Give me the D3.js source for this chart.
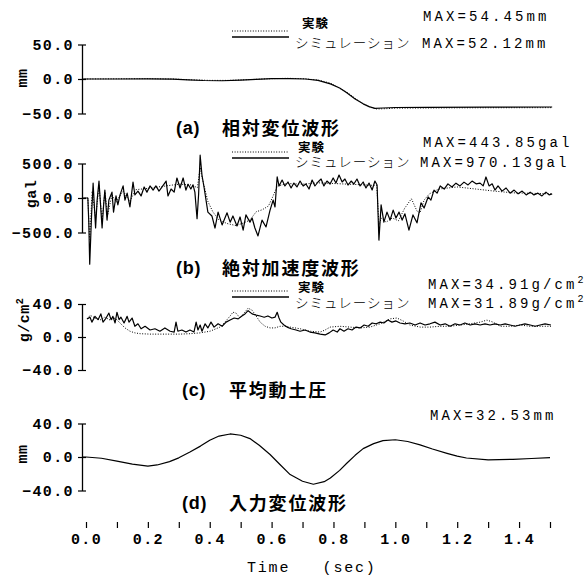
<!DOCTYPE html>
<html><head><meta charset="utf-8">
<script src="https://cdn.jsdelivr.net/npm/d3@7"></script>
<style>
body{margin:0;background:#fff;}
svg{display:block;}
</style></head><body>
<svg id="chart" width="585" height="579"></svg>
<script>
// ---- Time axis ----
const timeTicks = [0,0.1,0.2,0.3,0.4,0.5,0.6,0.7,0.8,0.9,1.0,1.1,1.2,1.3,1.4,1.5];
const timeTickLabels = ["0.0","","0.2","","0.4","","0.6","","0.8","","1.0","","1.2","","1.4",""];

// ---- (a) relative displacement [sec, mm] ----
const dispExp = [[-0.013,0],[0.1,0.3],[0.2,0.5],[0.28,0],[0.33,-1],[0.4,-2],[0.46,-2],[0.52,-1],[0.58,0.2],[0.65,1],[0.7,0.5],[0.75,-1.5],[0.79,-6],[0.843,-19],[0.87,-28],[0.896,-36],[0.92,-41],[0.94,-43.5],[0.97,-43],[1.0,-42.3],[1.2,-41.8],[1.507,-41.5]];
const dispSim = [[-0.013,0],[0.1,0],[0.2,0.2],[0.28,-0.2],[0.33,-1.2],[0.38,-2.2],[0.44,-2.5],[0.5,-1.5],[0.55,-0.4],[0.6,0.4],[0.66,0.6],[0.71,0],[0.75,-2],[0.79,-7],[0.82,-13],[0.843,-20],[0.87,-29],[0.896,-36],[0.915,-40],[0.934,-42.5],[0.96,-42],[1.0,-41.3],[1.1,-41],[1.3,-40.8],[1.507,-40.6]];
const dispTicks = [50,0,-50];
const dispTickLabels = ["50.0","0.0","\u221250.0"];

// ---- (b) absolute acceleration [sec, gal] ----
const accExp = [[-0.013,0],[0.006,0],[0.012,-600],[0.02,100],[0.031,-300],[0.042,180],[0.052,-320],[0.061,90],[0.07,-250],[0.084,50],[0.097,-60],[0.12,100],[0.142,-50],[0.16,120],[0.2,140],[0.25,170],[0.3,200],[0.34,190],[0.36,150],[0.369,440],[0.375,300],[0.385,120],[0.394,-50],[0.41,-200],[0.43,-320],[0.456,-370],[0.485,-400],[0.51,-360],[0.53,-320],[0.55,-200],[0.57,-170],[0.59,-115],[0.605,30],[0.618,170],[0.65,210],[0.7,200],[0.75,220],[0.8,210],[0.85,200],[0.9,190],[0.94,180],[0.947,-390],[0.955,-290],[0.97,-350],[0.99,-290],[1.01,-330],[1.03,-150],[1.052,-10],[1.07,-190],[1.08,-215],[1.093,-30],[1.11,60],[1.14,130],[1.2,160],[1.26,130],[1.32,100],[1.38,75],[1.507,60]];
const accSim = [[-0.013,0],[0.006,0],[0.009,-350],[0.012,-960],[0.018,-250],[0.023,215],[0.031,-435],[0.036,-30],[0.042,245],[0.047,-100],[0.052,-435],[0.057,-100],[0.061,115],[0.068,-320],[0.074,-30],[0.084,85],[0.089,-205],[0.097,30],[0.103,-100],[0.110,45],[0.120,175],[0.126,-30],[0.133,70],[0.142,-130],[0.152,230],[0.158,45],[0.168,100],[0.178,30],[0.188,160],[0.197,85],[0.207,175],[0.217,115],[0.226,175],[0.236,100],[0.246,160],[0.259,245],[0.265,30],[0.275,130],[0.285,85],[0.294,290],[0.304,145],[0.314,290],[0.323,115],[0.330,200],[0.339,130],[0.346,190],[0.352,85],[0.359,-300],[0.364,50],[0.369,620],[0.375,330],[0.382,145],[0.394,-205],[0.407,-260],[0.417,-435],[0.427,-205],[0.440,-390],[0.456,-215],[0.466,-350],[0.475,-260],[0.488,-405],[0.498,-275],[0.508,-465],[0.517,-245],[0.530,-350],[0.537,-290],[0.546,-435],[0.556,-550],[0.569,-320],[0.582,-420],[0.595,-175],[0.605,-30],[0.611,-130],[0.618,305],[0.624,174],[0.634,260],[0.643,174],[0.653,232],[0.663,145],[0.672,217],[0.682,160],[0.692,246],[0.702,174],[0.711,203],[0.721,130],[0.731,260],[0.740,174],[0.750,232],[0.760,275],[0.769,174],[0.779,246],[0.789,203],[0.799,290],[0.808,217],[0.818,333],[0.828,232],[0.837,275],[0.847,188],[0.857,246],[0.866,203],[0.876,275],[0.886,174],[0.896,232],[0.905,145],[0.915,217],[0.925,116],[0.934,246],[0.941,188],[0.947,-610],[0.954,-100],[0.963,-350],[0.973,-205],[0.983,-320],[0.993,-175],[1.002,-290],[1.012,-205],[1.022,-320],[1.031,-230],[1.044,-465],[1.057,-245],[1.070,-360],[1.083,-70],[1.093,-145],[1.106,15],[1.115,-30],[1.125,115],[1.135,70],[1.145,175],[1.158,130],[1.170,205],[1.183,160],[1.196,215],[1.209,175],[1.222,230],[1.235,190],[1.248,245],[1.261,205],[1.274,215],[1.284,175],[1.293,305],[1.303,175],[1.313,205],[1.322,115],[1.332,175],[1.345,100],[1.358,145],[1.371,70],[1.384,115],[1.397,60],[1.410,100],[1.423,45],[1.436,85],[1.448,45],[1.461,70],[1.474,30],[1.487,85],[1.497,45],[1.507,60]];
const accTicks = [500,0,-500];
const accTickLabels = ["500.0","0.0","\u2212500.0"];

// ---- (c) mean dynamic earth pressure [sec, g/cm2] ----
const presExp = [[0.006,22],[0.013,26.5],[0.029,23],[0.045,20.5],[0.061,24],[0.078,20.5],[0.094,23],[0.110,17],[0.126,11],[0.142,7],[0.158,5],[0.175,4],[0.207,3.5],[0.239,3.5],[0.272,3.5],[0.304,3.5],[0.336,4],[0.369,5],[0.401,7],[0.433,12],[0.449,18],[0.466,25.5],[0.475,30],[0.485,29],[0.498,23],[0.511,29],[0.524,34.9],[0.537,32.5],[0.550,25.5],[0.563,18],[0.579,13],[0.595,11],[0.611,11],[0.627,13],[0.643,13],[0.660,12],[0.692,10],[0.724,7],[0.757,6],[0.773,8.5],[0.789,12],[0.821,13],[0.854,12],[0.886,11],[0.918,12],[0.951,16],[0.983,22],[1.005,23],[1.025,19.5],[1.047,14.5],[1.080,12],[1.112,12],[1.145,13],[1.177,13],[1.209,14.5],[1.242,16],[1.274,18],[1.296,20.5],[1.316,18],[1.339,13],[1.371,13],[1.403,14.5],[1.436,13],[1.503,13]];
const presSim = [[0.003,22],[0.013,24],[0.019,18],[0.029,25],[0.039,21],[0.048,28],[0.055,18],[0.065,23],[0.074,29],[0.081,21],[0.087,25],[0.094,17],[0.100,30],[0.107,21],[0.113,24],[0.123,17],[0.133,25],[0.139,18],[0.149,23],[0.158,13],[0.168,16],[0.178,10],[0.191,13],[0.207,8.5],[0.223,10],[0.239,7],[0.255,11],[0.272,7],[0.285,6],[0.291,18],[0.297,7],[0.310,8.5],[0.323,6],[0.336,8.5],[0.349,6],[0.356,18],[0.362,8.5],[0.369,14.5],[0.375,7],[0.385,16],[0.394,11],[0.404,18],[0.414,12],[0.427,16],[0.440,13],[0.453,18],[0.466,20.5],[0.479,23],[0.492,22],[0.504,25.5],[0.514,28],[0.524,31.89],[0.537,28],[0.550,26.5],[0.563,25.5],[0.576,24],[0.588,25.5],[0.601,23],[0.611,24],[0.618,30],[0.624,23],[0.630,18],[0.640,14.5],[0.650,12],[0.663,10],[0.679,8.5],[0.692,7],[0.708,8.5],[0.724,6],[0.740,5],[0.757,3.5],[0.773,2.5],[0.786,5],[0.799,8.5],[0.812,6],[0.821,10],[0.834,7],[0.847,10],[0.860,8.5],[0.873,12],[0.886,11],[0.899,14.5],[0.912,13],[0.925,17],[0.938,16],[0.951,18],[0.963,17],[0.976,20.5],[0.989,18],[1.002,19.5],[1.015,17],[1.031,16],[1.047,17],[1.064,14.5],[1.080,17],[1.096,14.5],[1.112,16],[1.128,18],[1.145,14.5],[1.161,16],[1.177,13],[1.193,16],[1.209,14.5],[1.225,17],[1.242,14.5],[1.258,16],[1.274,14.5],[1.290,16],[1.306,14.5],[1.322,16],[1.339,14.5],[1.355,16],[1.371,14.5],[1.387,13],[1.403,14.5],[1.419,16],[1.436,14.5],[1.452,13],[1.468,14.5],[1.484,16],[1.503,14.5]];
const presTicks = [40,0,-40];
const presTickLabels = ["40.0","0.0","\u221240.0"];

// ---- (d) input displacement [sec, mm] ----
const inputDisp = [[-0.013,0],[0,0],[0.05,-1.5],[0.1,-5],[0.15,-8.5],[0.2,-10.8],[0.23,-9.5],[0.27,-5.5],[0.3,-1],[0.336,6],[0.37,13],[0.4,20],[0.43,25],[0.466,27.5],[0.5,26],[0.53,22],[0.56,14],[0.595,3],[0.627,-9],[0.66,-21],[0.7,-29],[0.735,-32.53],[0.77,-29.5],[0.79,-25],[0.82,-16],[0.843,-7.5],[0.87,2],[0.896,10],[0.93,16],[0.96,19.5],[1.0,20.6],[1.04,18.5],[1.08,14.5],[1.12,9.5],[1.167,4.4],[1.2,1],[1.23,-1.2],[1.3,-3.4],[1.38,-2.8],[1.44,-1.8],[1.5,-0.8]];
const inputTicks = [40,0,-40];
const inputTickLabels = ["40.0","0.0","\u221240.0"];

// ---- Texts ----
const legendExp = "実験";
const legendSim = "シミュレーション";
const titles = ["(a)","(b)","(c)","(d)"];
const titleTexts = ["相対変位波形","絶対加速度波形","平均動土圧","入力変位波形"];
const maxLabels = [["MAX=54.45mm","MAX=52.12mm"],["MAX=443.85gal","MAX=970.13gal"],["MAX=34.91g/cm","MAX=31.89g/cm"],["MAX=32.53mm"]];
const unitLabels = ["mm","gal","g/cm","mm"];

// ---- Drawing ----
const MONO = "'Liberation Mono','DejaVu Sans Mono',monospace";
const JP = "'Noto Sans CJK JP','Noto Sans CJK SC',sans-serif";
const svg = d3.select("#chart");
const x = d3.scaleLinear().domain([0, 1.5]).range([86, 550]);
const axisX = 82;

const panels = [
  {exp: dispExp, sim: dispSim, dom: [-50, 50], rng: [113.5, 44.5], ticks: dispTicks, labels: dispTickLabels,
   legY: 31, expTxt: [302, 28], simTxt: [295, 48], max: [[423, 21], [422, 48]], title: 134, unit: [27, 78]},
  {exp: accExp, sim: accSim, dom: [-500, 500], rng: [232.5, 163.5], ticks: accTicks, labels: accTickLabels,
   legY: 152, expTxt: [298, 152], simTxt: [295, 167], max: [[423, 147], [420, 167]], title: 274, unit: [36, 194]},
  {exp: presExp, sim: presSim, dom: [-40, 40], rng: [370, 304], ticks: presTicks, labels: presTickLabels,
   legY: 291, expTxt: [298, 292], simTxt: [295, 308], max: [[428, 289], [428, 308]], title: 396, unit: [29, 320], sup: true},
  {exp: null, sim: inputDisp, dom: [-40, 40], rng: [490.5, 423.5], ticks: inputTicks, labels: inputTickLabels,
   legY: null, max: [[430, 420]], title: 509, unit: [27, 454]}
];

panels.forEach((p, i) => {
  const y = d3.scaleLinear().domain(p.dom).range(p.rng);
  const g = svg.append("g");

  // vertical axis with crossing ticks
  const ax = g.append("g").attr("transform", `translate(${axisX},0)`)
    .call(d3.axisLeft(y).tickValues(p.ticks).tickFormat((d, k) => p.labels[k])
      .tickSize(4).tickSizeOuter(0).tickPadding(4));
  ax.select(".domain").attr("stroke", "#000").attr("stroke-width", 1.3);
  ax.selectAll(".tick line").attr("x1", 4).attr("stroke", "#000").attr("stroke-width", 1.2);
  ax.selectAll(".tick text").attr("font-family", MONO).attr("font-size", 15)
    .attr("font-weight", "bold").attr("letter-spacing", 1.4).attr("fill", "#000");

  const line = d3.line().x(d => x(d[0])).y(d => y(d[1]));
  if (p.exp) {
    g.append("path").datum(p.exp).attr("d", line).attr("fill", "none")
      .attr("stroke", "#000").attr("stroke-width", 1).attr("stroke-dasharray", "1,1.6");
  }
  g.append("path").datum(p.sim).attr("d", line).attr("fill", "none")
    .attr("stroke", "#000").attr("stroke-width", 1.2).attr("stroke-linejoin", "round");

  // legend
  if (p.legY !== null) {
    g.append("line").attr("x1", 232).attr("x2", 289).attr("y1", p.legY).attr("y2", p.legY)
      .attr("stroke", "#000").attr("stroke-width", 1).attr("stroke-dasharray", "1,1.6");
    g.append("line").attr("x1", 232).attr("x2", 289).attr("y1", p.legY + 6).attr("y2", p.legY + 6)
      .attr("stroke", "#000").attr("stroke-width", 1.5);
    g.append("text").attr("x", p.expTxt[0]).attr("y", p.expTxt[1]).text(legendExp)
      .attr("font-family", JP).attr("font-size", 12.5).attr("font-weight", "bold").attr("letter-spacing", 1);
    g.append("text").attr("x", p.simTxt[0]).attr("y", p.simTxt[1]).text(legendSim)
      .attr("font-family", JP).attr("font-size", 13.5).attr("font-weight", 300).attr("letter-spacing", 1);
  }

  // MAX labels
  maxLabels[i].forEach((t, k) => {
    const tx = g.append("text").attr("x", p.max[k][0]).attr("y", p.max[k][1])
      .attr("font-family", MONO).attr("font-size", 14).attr("letter-spacing", 3.1).attr("fill", "#000");
    tx.append("tspan").text(t);
    if (p.sup) tx.append("tspan").attr("dy", -6).attr("font-size", 10).attr("letter-spacing", 0).text("2");
  });

  // panel title
  g.append("text").attr("x", 176 + (i >= 2 ? 6 : 0)).attr("y", p.title).text(titles[i])
    .attr("font-family", "'Liberation Sans',Arial,sans-serif").attr("font-size", 18)
    .attr("font-weight", "bold").attr("letter-spacing", 0.8);
  g.append("text").attr("x", i >= 2 ? 229 : 222).attr("y", p.title + 1).text(titleTexts[i])
    .attr("font-family", JP).attr("font-size", 18).attr("font-weight", "bold").attr("letter-spacing", 1.8);

  // unit label (rotated)
  const u = g.append("text").attr("transform", `translate(${p.unit[0]},${p.unit[1]}) rotate(-90)`)
    .attr("text-anchor", "middle").attr("font-family", MONO).attr("font-size", 15)
    .attr("font-weight", "bold").attr("letter-spacing", 0.5);
  u.append("tspan").text(unitLabels[i]);
  if (p.sup) u.append("tspan").attr("dy", -6).attr("font-size", 10).text("2");
});

// time axis
const tx = svg.append("g").attr("transform", "translate(0,522)")
  .call(d3.axisBottom(x).tickValues(timeTicks).tickFormat((d, k) => timeTickLabels[k])
    .tickSize(6).tickPadding(5));
tx.select(".domain").remove();
tx.selectAll(".tick line").attr("stroke", "#000").attr("stroke-width", 1.2);
tx.selectAll(".tick text").attr("font-family", MONO).attr("font-size", 15)
  .attr("font-weight", "bold").attr("letter-spacing", 1.4).attr("fill", "#000");

svg.append("text").attr("x", 247).attr("y", 572).attr("font-family", MONO).attr("font-size", 15)
  .attr("letter-spacing", 1.8).attr("xml:space", "preserve").style("white-space", "pre").text("Time   (sec)");
</script>
</body></html>
